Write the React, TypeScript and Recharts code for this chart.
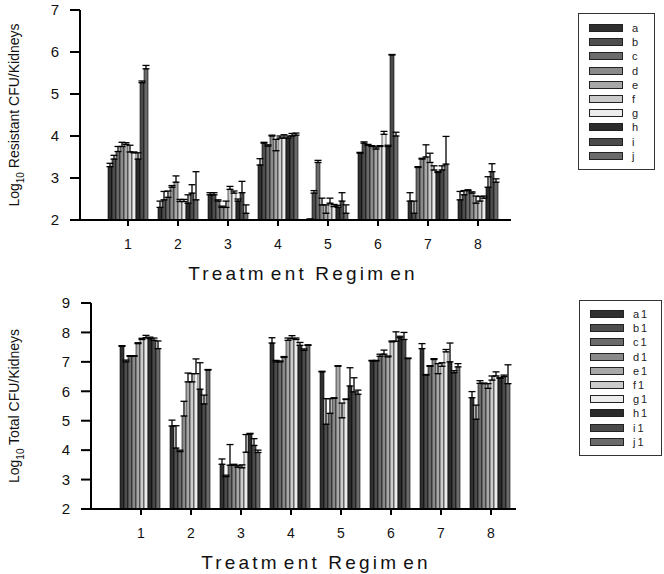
import React from "react";
import { Bar, BarChart, ErrorBar, Legend, XAxis, YAxis } from "recharts";

const regimens = ["1", "2", "3", "4", "5", "6", "7", "8"];
const seriesKeys = ["a", "b", "c", "d", "e", "f", "g", "h", "i", "j"];
const resistantNames = ["a", "b", "c", "d", "e", "f", "g", "h", "i", "j"];
const totalNames = ["a1", "b1", "c1", "d1", "e1", "f1", "g1", "h1", "i1", "j1"];
const seriesColors = [
    "#303030", "#4d4d4d", "#6b6b6b", "#8a8a8a", "#a8a8a8",
    "#cbcbcb", "#ececec", "#2b2b2b", "#4a4a4a", "#6a6a6a",
];
const resistantTicks = [2, 3, 4, 5, 6, 7];
const totalTicks = [2, 3, 4, 5, 6, 7, 8, 9];

// one row per series (a..j), one column per regimen (1..8)
const resistantMeans = [
    [3.27, 2.3, 2.6, 3.31, 2.02, 3.59, 2.45, 2.48],
    [3.45, 2.48, 2.6, 3.83, 2.64, 3.83, 2.16, 2.6],
    [3.63, 2.54, 2.45, 3.76, 3.37, 3.78, 3.25, 2.7],
    [3.75, 2.78, 2.3, 4.0, 2.36, 3.75, 3.45, 2.64],
    [3.8, 2.9, 2.3, 3.65, 2.16, 3.69, 3.5, 2.4],
    [3.62, 2.44, 2.73, 3.95, 2.4, 3.75, 3.37, 2.45],
    [3.6, 2.44, 2.64, 3.95, 2.32, 4.04, 3.19, 2.52],
    [3.45, 2.4, 2.45, 3.95, 2.3, 3.75, 3.13, 2.78],
    [5.27, 2.64, 2.65, 4.0, 2.45, 5.93, 3.19, 3.15],
    [5.6, 2.48, 2.16, 4.02, 2.16, 4.0, 3.33, 2.9],
];
const resistantErrors = [
    [0.08, 0.15, 0.05, 0.15, 0, 0.02, 0.2, 0.2],
    [0.09, 0.2, 0.05, 0.02, 0.06, 0.03, 0.29, 0.1],
    [0.12, 0.15, 0.03, 0.03, 0.05, 0.02, 0.02, 0.02],
    [0.1, 0.04, 0.03, 0.02, 0.16, 0.02, 0.02, 0.03],
    [0.04, 0.15, 0.15, 0.27, 0.2, 0.05, 0.29, 0.17],
    [0.16, 0.05, 0.07, 0.05, 0.12, 0.02, 0.22, 0.11],
    [0.02, 0.05, 0.05, 0.08, 0.05, 0.07, 0.1, 0.05],
    [0.15, 0.2, 0.05, 0.05, 0.05, 0.03, 0.02, 0.25],
    [0.04, 0.2, 0.27, 0.06, 0.2, 0.01, 0.1, 0.19],
    [0.08, 0.67, 0.2, 0.05, 0.2, 0.09, 0.66, 0.08],
];
const totalMeans = [
    [7.53, 4.82, 3.52, 7.64, 6.66, 7.03, 7.45, 5.78],
    [7.0, 4.07, 3.1, 7.0, 4.88, 7.03, 6.55, 5.05],
    [7.19, 3.95, 3.49, 7.0, 5.25, 7.19, 6.85, 6.27],
    [7.19, 5.16, 3.49, 7.15, 5.76, 7.26, 7.08, 6.26],
    [7.62, 6.32, 3.42, 7.73, 6.85, 7.17, 6.6, 6.1],
    [7.76, 6.32, 3.4, 7.79, 5.1, 7.68, 6.85, 6.38],
    [7.82, 6.6, 3.93, 7.76, 5.72, 7.7, 7.34, 6.52],
    [7.79, 6.07, 4.55, 7.56, 6.18, 7.82, 7.0, 6.44],
    [7.73, 5.57, 4.16, 7.39, 5.98, 7.76, 6.63, 6.5],
    [7.45, 6.72, 3.92, 7.56, 5.9, 7.11, 6.83, 6.26],
];
const totalErrors = [
    [0.02, 0.2, 0.18, 0.18, 0.02, 0.02, 0.17, 0.21],
    [0.06, 0.76, 0.05, 0.05, 0.87, 0.02, 0.02, 0.48],
    [0.02, 0.05, 0.7, 0.03, 0.5, 0.07, 0.02, 0.09],
    [0.02, 0.5, 0.03, 0.03, 0.02, 0.14, 0.03, 0.02],
    [0.03, 0.3, 0.05, 0.08, 0.02, 0.03, 0.34, 0.16],
    [0.04, 0.28, 0.1, 0.1, 0.5, 0.03, 0.12, 0.14],
    [0.08, 0.5, 0.6, 0.05, 0.02, 0.32, 0.08, 0.14],
    [0.05, 0.9, 0.02, 0.1, 0.62, 0.05, 0.64, 0.02],
    [0.08, 0.3, 0.23, 0.05, 0.48, 0.24, 0.07, 0.05],
    [0.26, 0.02, 0.08, 0.02, 0.14, 0.02, 0.11, 0.64],
];

const FONT = '"Liberation Sans", Arial, Helvetica, sans-serif';

const buildRows = (means: number[][], errors: number[][]) =>
    regimens.map((regimen, gi) => {
        const row: any = { regimen };
        seriesKeys.forEach((k, si) => {
            row[k] = means[si][gi];
            // only the upper whisker is drawn in the original
            row[k + "Err"] = [0, errors[si][gi]];
        });
        return row;
    });

interface PanelProps {
    top: number;
    height: number;
    data: any[];
    names: string[];
    ticks: number[];
    yLabel: string;
    axisWidth: number;
    margin: { top: number; right: number; bottom: number; left: number };
    xHeight: number;
    padLeft: number;
    padRight: number;
    gap: number;
    legendLeft: number;
    legendTop: number;
    legendWidth: number;
    legendPadTop: number;
    labelSpacing: number;
}

const LegendBox = (props: any) => {
    const { payload, width, padTop, spacing } = props;
    return (
        <div
            style={{
                width,
                boxSizing: "border-box",
                border: "1px solid #333",
                background: "#fff",
                padding: `${padTop}px 0 6px 10px`,
                fontFamily: FONT,
            }}
        >
            {(payload || []).map((entry: any) => (
                <div
                    key={entry.value}
                    style={{ display: "flex", alignItems: "center", height: 14.2 }}
                >
                    <div
                        style={{
                            width: 34,
                            height: 8,
                            boxSizing: "border-box",
                            background: entry.color,
                            border: "1px solid #222",
                            marginRight: 9,
                        }}
                    />
                    <span style={{ fontSize: 11, color: "#222", letterSpacing: spacing }}>
                        {entry.value}
                    </span>
                </div>
            ))}
        </div>
    );
};

const Panel: React.FC<PanelProps> = (p) => {
    const axisLine = { stroke: "#000", strokeWidth: 2 };

    const renderTitle = (props: any) => {
        const vb = props.viewBox;
        const cx = vb.x + p.padLeft + (vb.width - p.padLeft - p.padRight) / 2;
        return (
            <text
                x={cx}
                y={vb.y + 60}
                textAnchor="middle"
                fontSize={19}
                letterSpacing={3.2}
                fill="#111"
                style={{ fontFamily: FONT }}
            >
                Treatm<tspan dx={4}>ent</tspan> Regim<tspan dx={4}>en</tspan>
            </text>
        );
    };

    const renderYLabel = (props: any) => {
        const vb = props.viewBox;
        const cy = vb.y + vb.height / 2;
        return (
            <text
                transform={`translate(19,${cy}) rotate(-90)`}
                textAnchor="middle"
                fontSize={14}
                fill="#111"
                style={{ fontFamily: FONT }}
            >
                Log<tspan dy={5} fontSize={10}>10</tspan>
                <tspan dy={-5}>{" " + p.yLabel}</tspan>
            </text>
        );
    };

    return (
        <div style={{ position: "absolute", left: 0, top: p.top }}>
            <BarChart
                width={664}
                height={p.height}
                data={p.data}
                margin={p.margin}
                barGap={0}
                barCategoryGap={p.gap}
                style={{ fontFamily: FONT }}
            >
                <XAxis
                    dataKey="regimen"
                    height={p.xHeight}
                    padding={{ left: p.padLeft, right: p.padRight }}
                    axisLine={axisLine}
                    tickLine={{ stroke: "#000", strokeWidth: 2 }}
                    tickSize={6}
                    tickMargin={13}
                    tick={{ fontSize: 14, fill: "#111" }}
                    label={{ content: renderTitle }}
                />
                <XAxis
                    xAxisId="frame"
                    dataKey="regimen"
                    orientation="top"
                    height={0}
                    tick={false}
                    tickLine={false}
                    axisLine={axisLine}
                />
                <YAxis
                    width={p.axisWidth}
                    domain={[p.ticks[0], p.ticks[p.ticks.length - 1]]}
                    ticks={p.ticks}
                    interval={0}
                    axisLine={axisLine}
                    tickLine={{ stroke: "#000", strokeWidth: 2 }}
                    tickSize={10}
                    tickMargin={11}
                    tick={{ fontSize: 15, fill: "#111" }}
                    label={{ content: renderYLabel }}
                />
                <YAxis
                    yAxisId="frame"
                    orientation="right"
                    width={0}
                    domain={[0, 1]}
                    tick={false}
                    tickLine={false}
                    axisLine={axisLine}
                />
                <Legend
                    layout="horizontal"
                    align="center"
                    verticalAlign="middle"
                    wrapperStyle={{ left: p.legendLeft, top: p.legendTop, width: p.legendWidth }}
                    content={(props: any) => (
                        <LegendBox
                            payload={props.payload}
                            width={p.legendWidth}
                            padTop={p.legendPadTop}
                            spacing={p.labelSpacing}
                        />
                    )}
                />
                {seriesKeys.map((k, si) => (
                    <Bar
                        key={k}
                        dataKey={k}
                        name={p.names[si]}
                        fill={seriesColors[si]}
                        stroke="#000"
                        strokeWidth={0.6}
                        isAnimationActive={false}
                    >
                        <ErrorBar
                            dataKey={k + "Err"}
                            direction="y"
                            width={3.5}
                            stroke="#000"
                            strokeWidth={1.3}
                            isAnimationActive={false}
                        />
                    </Bar>
                ))}
            </BarChart>
        </div>
    );
};

const App: React.FC = () => {
    const resistantRows = buildRows(resistantMeans, resistantErrors);
    const totalRows = buildRows(totalMeans, totalErrors);

    return (
        <div
            style={{
                position: "absolute",
                left: 0,
                top: 0,
                width: 664,
                height: 574,
                background: "#fff",
                fontFamily: FONT,
            }}
        >
            <Panel
                top={0}
                height={290}
                data={resistantRows}
                names={resistantNames}
                ticks={resistantTicks}
                yLabel="Resistant CFU/Kidneys"
                axisWidth={80}
                margin={{ top: 10, right: 153, bottom: 0, left: 0 }}
                xHeight={70}
                padLeft={23}
                padRight={8}
                gap={5}
                legendLeft={578}
                legendTop={13}
                legendWidth={77}
                legendPadTop={7}
                labelSpacing={0}
            />
            <Panel
                top={290}
                height={284}
                data={totalRows}
                names={totalNames}
                ticks={totalTicks}
                yLabel="Total CFU/Kidneys"
                axisWidth={91}
                margin={{ top: 13, right: 148, bottom: 0, left: 0 }}
                xHeight={65}
                padLeft={25}
                padRight={0}
                gap={4}
                legendLeft={579}
                legendTop={10}
                legendWidth={83}
                legendPadTop={6}
                labelSpacing={2}
            />
        </div>
    );
};

export default App;
